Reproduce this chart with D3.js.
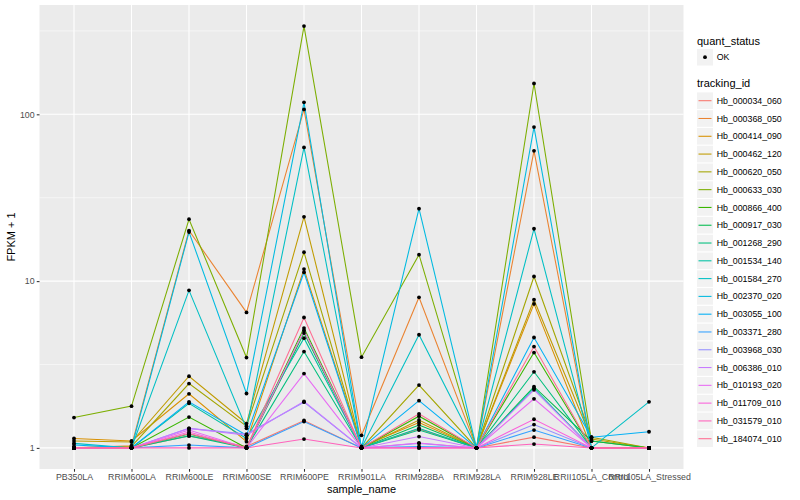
<!DOCTYPE html>
<html><head><meta charset="utf-8">
<script src="https://cdn.jsdelivr.net/npm/d3@7"></script>
<style>body{margin:0;background:#fff}svg{display:block}</style>
</head><body><svg id="c" width="800" height="500"></svg>
<script>
const categories = ["PB350LA","RRIM600LA","RRIM600LE","RRIM600SE","RRIM600PE","RRIM901LA","RRIM928BA","RRIM928LA","RRIM928LE","RRII105LA_Control","RRII105LA_Stressed"];
const trackingIds = ["Hb_000034_060","Hb_000368_050","Hb_000414_090","Hb_000462_120","Hb_000620_050","Hb_000633_030","Hb_000866_400","Hb_000917_030","Hb_001268_290","Hb_001534_140","Hb_001584_270","Hb_002370_020","Hb_003055_100","Hb_003371_280","Hb_003968_030","Hb_006386_010","Hb_010193_020","Hb_011709_010","Hb_031579_010","Hb_184074_010"];
const seriesColors = ["#F8766D","#EA8331","#D89000","#C09B00","#A3A500","#7CAE00","#39B600","#00BB4E","#00BF7D","#00C1A3","#00BFC4","#00BAE0","#00B0F6","#35A2FF","#9590FF","#C77CFF","#E76BF3","#FA62DB","#FF62BC","#FF6C91"];
const yTicks = [1, 10, 100];
const yTickLabels = ["1", "10", "100"];
const yMinor = [Math.sqrt(10), Math.sqrt(1000), Math.sqrt(100000)];

const hb000034_060 = [1.0, 1.0, 1.18, 1.02, 1.46, 1.0, 1.30, 1.0, 1.16, 1.0, 1.0];
const hb000368_050 = [1.0, 1.03, 20.1, 6.49, 107, 1.19, 8.0, 1.0, 60.4, 1.0, 1.0];
const hb000414_090 = [1.14, 1.10, 2.11, 1.09, 11.8, 1.02, 1.42, 1.0, 7.3, 1.0, 1.0];
const hb000462_120 = [1.10, 1.085, 2.69, 1.40, 24.3, 1.0, 1.47, 1.0, 7.73, 1.13, 1.0];
const hb000620_050 = [1.0, 1.02, 2.43, 1.35, 14.9, 1.0, 2.38, 1.0, 10.66, 1.16, 1.0];
const hb000633_030 = [1.52, 1.78, 23.5, 3.48, 338, 3.5, 14.4, 1.0, 153, 1.1, 1.0];
const hb000866_400 = [1.0, 1.0, 1.53, 1.0, 5.23, 1.0, 1.55, 1.0, 3.73, 1.0, 1.0];
const hb000917_030 = [1.0, 1.0, 1.21, 1.0, 4.88, 1.0, 1.37, 1.0, 2.33, 1.10, 1.0];
const hb001268_290 = [1.0, 1.0, 1.18, 1.0, 3.78, 1.0, 1.28, 1.0, 2.86, 1.0, 1.0];
const hb001534_140 = [1.0, 1.0, 1.85, 1.14, 4.55, 1.0, 1.31, 1.0, 2.28, 1.0, 1.0];
const hb001584_270 = [1.065, 1.0, 8.8, 1.31, 63.3, 1.0, 4.77, 1.0, 20.6, 1.0, 1.89];
const hb002370_020 = [1.0, 1.0, 19.7, 2.12, 118, 1.0, 27.2, 1.0, 83.8, 1.0, 1.0];
const hb003055_100 = [1.04, 1.0, 1.89, 1.19, 11.3, 1.0, 1.92, 1.0, 4.59, 1.16, 1.25];
const hb003371_280 = [1.0, 1.0, 1.04, 1.0, 1.44, 1.0, 1.02, 1.0, 1.28, 1.0, 1.0];
const hb003968_030 = [1.0, 1.0, 1.31, 1.21, 1.88, 1.0, 1.065, 1.0, 1.38, 1.0, 1.0];
const hb006386_010 = [1.0, 1.0, 1.31, 1.19, 1.90, 1.0, 1.17, 1.0, 2.23, 1.0, 1.0];
const hb010193_020 = [1.0, 1.0, 1.28, 1.0, 2.79, 1.0, 1.07, 1.0, 1.97, 1.0, 1.0];
const hb011709_010 = [1.0, 1.0, 1.246, 1.0, 5.06, 1.0, 1.0, 1.0, 1.485, 1.0, 1.0];
const hb031579_010 = [1.0, 1.0, 1.0, 1.0, 1.13, 1.0, 1.0, 1.0, 1.055, 1.0, 1.0];
const hb184074_010 = [1.0, 1.0, 1.22, 1.0, 6.05, 1.0, 1.60, 1.0, 4.05, 1.0, 1.0];

const seriesValues = [hb000034_060, hb000368_050, hb000414_090, hb000462_120, hb000620_050, hb000633_030, hb000866_400, hb000917_030, hb001268_290, hb001534_140, hb001584_270, hb002370_020, hb003055_100, hb003371_280, hb003968_030, hb006386_010, hb010193_020, hb011709_010, hb031579_010, hb184074_010];

const series = trackingIds.map((id, i) => ({id, color: seriesColors[i], values: seriesValues[i].map((v, j) => ({cat: categories[j], v}))}));

const P = {left: 39.5, right: 683.5, top: 5, bottom: 469};
const font = "'Liberation Sans', Arial, Helvetica, sans-serif";
const svg = d3.select("#c");

const x = d3.scalePoint().domain(categories).range([P.left, P.right]).padding(0.6);
const allV = seriesValues.flat();
const lmin = Math.log10(d3.min(allV)), lmax = Math.log10(d3.max(allV));
const ex = (lmax - lmin) * 0.05;
const y = d3.scaleLog().domain([Math.pow(10, lmin - ex), Math.pow(10, lmax + ex)]).range([P.bottom, P.top]);

svg.append("rect").attr("x", P.left).attr("y", P.top).attr("width", P.right - P.left).attr("height", P.bottom - P.top).attr("fill", "#EBEBEB");

const grid = svg.append("g");
yMinor.forEach(t => { const yy = y(t); if (yy > P.top && yy < P.bottom) grid.append("line").attr("x1", P.left).attr("x2", P.right).attr("y1", yy).attr("y2", yy).attr("stroke", "#fff").attr("stroke-width", 0.53); });
yTicks.forEach(t => grid.append("line").attr("x1", P.left).attr("x2", P.right).attr("y1", y(t)).attr("y2", y(t)).attr("stroke", "#fff").attr("stroke-width", 1.07));
categories.forEach(c => grid.append("line").attr("x1", x(c)).attr("x2", x(c)).attr("y1", P.top).attr("y2", P.bottom).attr("stroke", "#fff").attr("stroke-width", 1.07));

const line = d3.line().x(d => x(d.cat)).y(d => y(d.v));
const lg = svg.append("g");
series.forEach(s => lg.append("path").attr("d", line(s.values)).attr("fill", "none").attr("stroke", s.color).attr("stroke-width", 1.07));
const pg = svg.append("g");
series.forEach(s => s.values.forEach(d => pg.append("circle").attr("cx", x(d.cat)).attr("cy", y(d.v)).attr("r", 1.9).attr("fill", "#000")));

// axes
const yAxis = d3.axisLeft(y).tickValues(yTicks).tickFormat((d, i) => yTickLabels[i]).tickSize(2.75).tickPadding(2.2);
const ga = svg.append("g").attr("transform", `translate(${P.left},0)`).call(yAxis);
ga.select(".domain").remove();
ga.selectAll("line").attr("stroke", "#333333").attr("stroke-width", 1.07);
ga.selectAll("text").attr("fill", "#4D4D4D").style("font", `8.8px ${font}`);

const xAxis = d3.axisBottom(x).tickSize(2.75).tickPadding(2.2);
const gx = svg.append("g").attr("transform", `translate(0,${P.bottom})`).call(xAxis);
gx.select(".domain").remove();
gx.selectAll("line").attr("stroke", "#333333").attr("stroke-width", 1.07);
gx.selectAll("text").attr("fill", "#4D4D4D").style("font", `8.8px ${font}`);

svg.append("text").attr("x", (P.left + P.right) / 2).attr("y", 493).attr("text-anchor", "middle").style("font", `11px ${font}`).attr("fill", "#000").text("sample_name");
svg.append("text").attr("transform", `translate(15,${(P.top + P.bottom) / 2}) rotate(-90)`).attr("text-anchor", "middle").style("font", `11px ${font}`).attr("fill", "#000").text("FPKM + 1");

// legends
const L = svg.append("g");
const lx = 697;
L.append("text").attr("x", lx).attr("y", 45).style("font", `11px ${font}`).text("quant_status");
L.append("rect").attr("x", lx).attr("y", 49).attr("width", 16).attr("height", 16.5).attr("fill", "#F2F2F2");
L.append("circle").attr("cx", lx + 8).attr("cy", 57.2).attr("r", 1.9).attr("fill", "#000");
L.append("text").attr("x", lx + 19.7).attr("y", 60.3).style("font", `8.8px ${font}`).text("OK");

L.append("text").attr("x", lx).attr("y", 87).style("font", `11px ${font}`).text("tracking_id");
const step = 17.79;
series.forEach((s, i) => {
  const cy = 100.7 + i * step;
  L.append("rect").attr("x", lx).attr("y", cy - 8.3).attr("width", 16).attr("height", 16.6).attr("fill", "#F2F2F2");
  L.append("line").attr("x1", lx + 1.5).attr("x2", lx + 14.5).attr("y1", cy).attr("y2", cy).attr("stroke", s.color).attr("stroke-width", 1.07);
  L.append("text").attr("x", lx + 19.7).attr("y", cy + 3.1).style("font", `8.8px ${font}`).text(s.id);
});
</script></body></html>
